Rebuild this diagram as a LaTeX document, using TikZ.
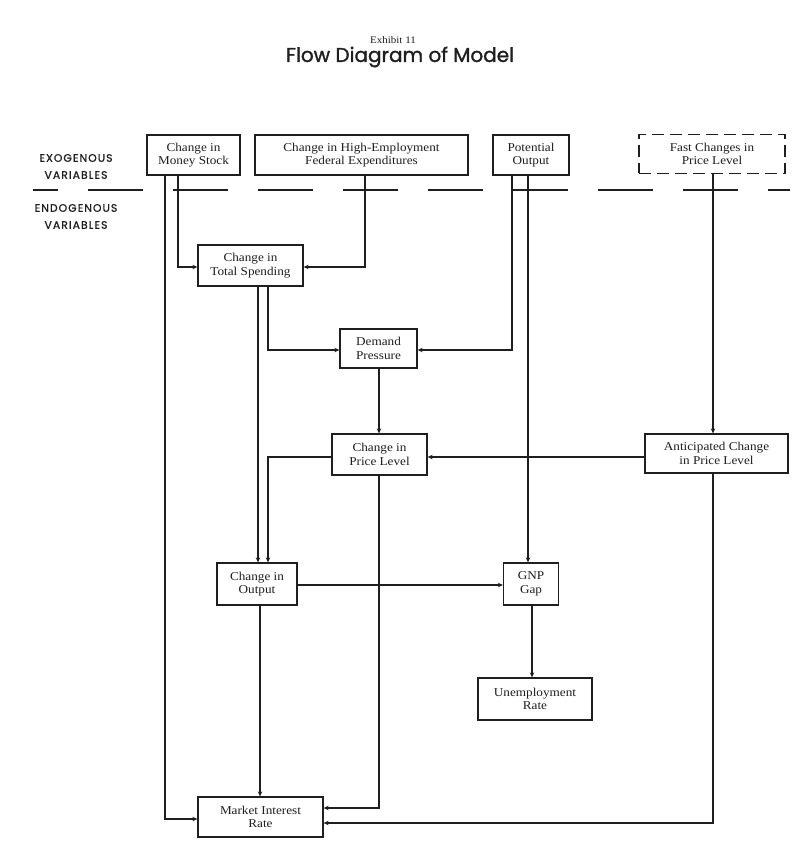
\documentclass[tikz,border=0pt]{standalone}
\usepackage{fontspec}
\setmainfont{Liberation Serif}
\newfontfamily\boxfont[FakeStretch=1.1]{Liberation Serif}
\newfontfamily\titlefont[FakeBold=1.3]{Poppins}
\newfontfamily\labfont[LetterSpace=10,FakeBold=1]{Poppins}
\usetikzlibrary{arrows.meta}
\definecolor{ink}{gray}{0.12}
\begin{document}
\begin{tikzpicture}[x=1pt,y=-1pt,
  box/.style={draw=ink,line width=1.3pt,inner sep=0pt,align=center,
    font=\boxfont\fontsize{12}{13.5}\selectfont,text=ink},
  arr/.style={draw=ink,line width=1.1pt,-{Stealth[length=5pt,width=4.5pt]}},
  lab/.style={font=\labfont\fontsize{10.8}{13}\selectfont,text=ink}]
\useasboundingbox[fill=white] (0,0) rectangle (798,845);

% title
\node[font=\boxfont\fontsize{10}{12}\selectfont,text=ink] (ex) at (393,40) {Exhibit 11};
\node[font=\titlefont\fontsize{20}{24}\selectfont,text=ink] (title) at (400,57) {Flow Diagram of Model};

% side labels
\node[lab] (exo1) at (76,158) {EXOGENOUS};
\node[lab] (exo2) at (76,175) {VARIABLES};
\node[lab] (endo1) at (76,208) {ENDOGENOUS};
\node[lab] (endo2) at (76,225) {VARIABLES};

% separator
\draw[ink,line width=1.3pt,dash pattern=on 55pt off 30pt,dash phase=30pt] (33,190) -- (790,190);

% boxes
\node[box,minimum width=93pt,minimum height=40pt] (ms) at (193.5,155) {Change in\\Money Stock};
\node[box,minimum width=213pt,minimum height=40pt] (fe) at (361.5,155) {Change in High-Employment\\Federal Expenditures};
\node[box,minimum width=76pt,minimum height=40pt] (po) at (531,155) {Potential\\Output};
\node[box,dash pattern=on 12pt off 6pt,minimum width=146pt,minimum height=39pt] (fc) at (712,154) {Fast Changes in\\Price Level};
\node[box,minimum width=105pt,minimum height=41pt] (ts) at (250.5,265.5) {Change in\\Total Spending};
\node[box,minimum width=77pt,minimum height=39pt] (dp) at (378.5,348.5) {Demand\\Pressure};
\node[box,minimum width=95pt,minimum height=41pt] (pl) at (379.5,454.5) {Change in\\Price Level};
\node[box,minimum width=143pt,minimum height=39pt] (ap) at (716.5,453.5) {Anticipated Change\\in Price Level};
\node[box,minimum width=80pt,minimum height=42pt] (co) at (257,584) {Change in\\Output};
\node[box,minimum width=55pt,minimum height=42pt] (gg) at (531,584) {GNP\\Gap};
\node[box,minimum width=114pt,minimum height=42pt] (ur) at (535,699) {Unemployment\\Rate};
\node[box,minimum width=125pt,minimum height=40pt] (mr) at (260.5,817) {Market Interest\\Rate};

% connectors
\draw[arr] ([xshift=-28.5pt]ms.south) |- ([yshift=-2pt]mr.west);
\draw[arr] ([xshift=-15.5pt]ms.south) |- ([yshift=-1.5pt]ts.west);
\draw[arr] ([xshift=3.5pt]fe.south) |- ([yshift=-1.5pt]ts.east);
\draw[arr] ([xshift=7.5pt]ts.south) -- ([xshift=1pt]co.north);
\draw[arr] ([xshift=17.5pt]ts.south) |- ([yshift=-1.5pt]dp.west);
\draw[arr] ([xshift=-19pt]po.south) |- ([yshift=-1.5pt]dp.east);
\draw[arr] ([xshift=-3pt]po.south) -- ([xshift=-3pt]gg.north);
\draw[arr] ([xshift=1pt]fc.south) -- ([xshift=-3.5pt]ap.north);
\draw[arr] ([xshift=0.5pt]dp.south) -- ([xshift=-0.5pt]pl.north);
\draw[arr] ([yshift=-3.5pt]ap.west) -- ([yshift=-2.5pt]pl.east);
\draw[arr] ([yshift=-2.5pt]pl.west) -| ([xshift=11pt]co.north);
\draw[arr] ([yshift=-1pt]co.east) -- ([yshift=-1pt]gg.west);
\draw[arr] ([xshift=1pt]gg.south) -- ([xshift=-3pt]ur.north);
\draw[arr] ([xshift=3pt]co.south) -- ([xshift=-0.5pt]mr.north);
\draw[arr] ([xshift=-0.5pt]pl.south) |- ([yshift=9pt]mr.east);
\draw[arr] ([xshift=-3.5pt]ap.south) |- ([yshift=-6pt]mr.east);
\end{tikzpicture}
\end{document}
